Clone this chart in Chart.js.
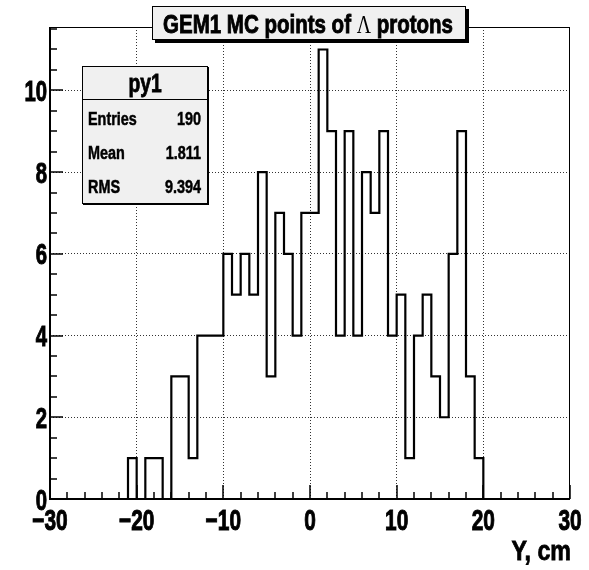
<!DOCTYPE html>
<html>
<head>
<meta charset="utf-8">
<script src="https://cdn.jsdelivr.net/npm/chart.js@4.4.1/dist/chart.umd.min.js"></script>
<style>
  body { margin: 0; background: #fff; }
  canvas { display: block; }
</style>
</head>
<body>
<canvas id="py1Chart" width="589" height="570"></canvas>
<script>
// 1 cm bins: low edge of each bin and its count
const binLow = [-21, -20, -19, -18, -17, -16, -15, -14, -13, -12, -11, -10, -9, -8, -7, -6, -5, -4, -3, -2, -1,
  0, 1, 2, 3, 4, 5, 6, 7, 8, 9, 10, 11, 12, 13, 14, 15, 16, 17, 18, 19];
const counts = [1, 0, 1, 1, 0, 3, 3, 1, 4, 4, 4, 6, 5, 6, 5, 8, 3, 7, 6, 4, 7,
  7, 11, 9, 4, 9, 4, 8, 7, 9, 4, 5, 1, 4, 5, 3, 2, 6, 9, 3, 1];
const xTicks = [-30, -20, -10, 0, 10, 20, 30];
const yTicks = [0, 2, 4, 6, 8, 10];
const statNames = ["Entries", "Mean", "RMS"];
const statValues = ["190", "1.811", "9.394"];

const SANS = '"Liberation Sans", Arial, sans-serif';

// outline of the histogram (ROOT style, no fill)
const outline = [{ x: binLow[0], y: 0 }];
binLow.forEach((lo, i) => outline.push({ x: lo, y: counts[i] }));
outline.push({ x: binLow[binLow.length - 1] + 1, y: 0 });

// the ROOT text is narrow and heavy: squeeze it and thicken a bit
function squeezed(ctx, text, x, y, font, align, sx, heavy) {
  ctx.save();
  ctx.font = font;
  ctx.textAlign = align;
  ctx.textBaseline = "alphabetic";
  ctx.translate(x, y);
  ctx.scale(sx, 1);
  ctx.fillStyle = "#000";
  ctx.fillText(text, 0, 0);
  if (heavy) {
    ctx.strokeStyle = "#000";
    ctx.lineWidth = heavy;
    ctx.strokeText(text, 0, 0);
  }
  ctx.restore();
}

const rootFrame = {
  id: "rootFrame",
  afterDatasetsDraw(chart) {
    const { ctx, chartArea: a, scales: { x, y } } = chart;
    ctx.save();
    ctx.strokeStyle = "#000";
    ctx.lineWidth = 1;
    ctx.strokeRect(a.left + 0.5, a.top + 0.5, a.right - a.left - 1, a.bottom - a.top);
    ctx.lineWidth = 2;
    ctx.beginPath();
    ctx.moveTo(a.left, a.top);
    ctx.lineTo(a.left, a.bottom);
    ctx.lineTo(a.right, a.bottom);
    ctx.stroke();

    // ticks point into the frame
    ctx.lineWidth = 1.5;
    ctx.beginPath();
    for (let v = x.min; v <= x.max; v += 2) {
      const px = Math.round(x.getPixelForValue(v));
      const len = v % 10 === 0 ? 14 : 7;
      ctx.moveTo(px, a.bottom);
      ctx.lineTo(px, a.bottom - len);
    }
    for (let v = 0; v <= y.max; v += 0.5) {
      const py = Math.round(y.getPixelForValue(v));
      const len = v % 2 === 0 ? 13 : 7;
      ctx.moveTo(a.left, py);
      ctx.lineTo(a.left + len, py);
    }
    ctx.stroke();

    // tick labels and axis title
    const tickFont = "bold 29px " + SANS;
    x.ticks.forEach(t => {
      const lbl = t.value < 0 ? "\u2212" + Math.abs(t.value) : String(t.value);
      squeezed(ctx, lbl, x.getPixelForValue(t.value), 530, tickFont, "center", 0.72, 1);
    });
    y.ticks.forEach(t => {
      squeezed(ctx, String(t.value), 47, y.getPixelForValue(t.value) + 10.5, tickFont, "right", 0.7, 1);
    });
    squeezed(ctx, "Y, cm", 571, 560, "bold 28px " + SANS, "right", 0.83, 0.8);
    ctx.restore();
  },
  afterDraw(chart) {
    const ctx = chart.ctx;
    ctx.save();

    // title box
    const tb = { l: 152, t: 6, r: 466, b: 40 };
    ctx.fillStyle = "#000";
    ctx.fillRect(tb.l + 3, tb.t + 3, tb.r - tb.l, tb.b - tb.t);
    ctx.fillStyle = "#f0f0f0";
    ctx.fillRect(tb.l, tb.t, tb.r - tb.l, tb.b - tb.t);
    ctx.strokeStyle = "#000";
    ctx.lineWidth = 1;
    ctx.strokeRect(tb.l + 0.5, tb.t + 0.5, tb.r - tb.l - 1, tb.b - tb.t - 1);

    const parts = [
      { s: "GEM1 MC points of ", f: "bold 26px " + SANS, h: 0.9 },
      { s: "\u039B", f: "25px \"Liberation Serif\", serif", h: 0 },
      { s: " protons", f: "bold 26px " + SANS, h: 0.9 }
    ];
    let w = 0;
    parts.forEach(p => { ctx.font = p.f; p.w = ctx.measureText(p.s).width; w += p.w; });
    const sx = 290 / w;
    let tx = 308 - 145;
    parts.forEach(p => { squeezed(ctx, p.s, tx, 33, p.f, "left", sx, p.h); tx += p.w * sx; });

    // stats box
    const sb = { l: 82, t: 66, r: 208, b: 204 };
    ctx.fillStyle = "#000";
    ctx.fillRect(sb.l + 1, sb.t + 1, sb.r - sb.l, sb.b - sb.t);
    ctx.fillStyle = "#f0f0f0";
    ctx.fillRect(sb.l, sb.t, sb.r - sb.l, sb.b - sb.t);
    ctx.strokeStyle = "#000";
    ctx.lineWidth = 1;
    ctx.strokeRect(sb.l + 0.5, sb.t + 0.5, sb.r - sb.l - 1, sb.b - sb.t - 1);
    ctx.beginPath();
    ctx.moveTo(sb.l, 99.5);
    ctx.lineTo(sb.r, 99.5);
    ctx.stroke();

    squeezed(ctx, "py1", (sb.l + sb.r) / 2, 92, "bold 25px " + SANS, "center", 0.77, 0.8);
    statNames.forEach((n, i) => {
      const by = 125 + i * 34.2;
      squeezed(ctx, n, 88, by, "bold 18px " + SANS, "left", 0.8, 0.5);
      squeezed(ctx, statValues[i], 201, by, "bold 18px " + SANS, "right", 0.8, 0.5);
    });
    ctx.restore();
  }
};

new Chart(document.getElementById("py1Chart"), {
  type: "line",
  data: {
    datasets: [{
      label: "py1",
      data: outline,
      stepped: "before",
      borderColor: "#000",
      borderWidth: 2.2,
      pointRadius: 0,
      fill: false
    }]
  },
  options: {
    responsive: false,
    animation: false,
    layout: { padding: { top: 27, right: 19, left: 0, bottom: 0 } },
    plugins: {
      legend: { display: false },
      tooltip: { enabled: false }
    },
    scales: {
      x: {
        type: "linear",
        min: -30,
        max: 30,
        afterFit: s => { s.height = 71; },
        afterBuildTicks: s => { s.ticks = xTicks.map(v => ({ value: v })); },
        ticks: { display: false },
        grid: {
          drawTicks: false,
          color: c => (c.tick && Math.abs(c.tick.value) === 30 ? "rgba(0,0,0,0)" : "#333")
        },
        border: { display: false, dash: [1, 2] }
      },
      y: {
        min: 0,
        max: 11.55,
        afterFit: s => { s.width = 50; },
        afterBuildTicks: s => { s.ticks = yTicks.map(v => ({ value: v })); },
        ticks: { display: false },
        grid: {
          drawTicks: false,
          color: c => (c.tick && c.tick.value === 0 ? "rgba(0,0,0,0)" : "#333")
        },
        border: { display: false, dash: [1, 2] }
      }
    }
  },
  plugins: [rootFrame]
});
</script>
</body>
</html>
